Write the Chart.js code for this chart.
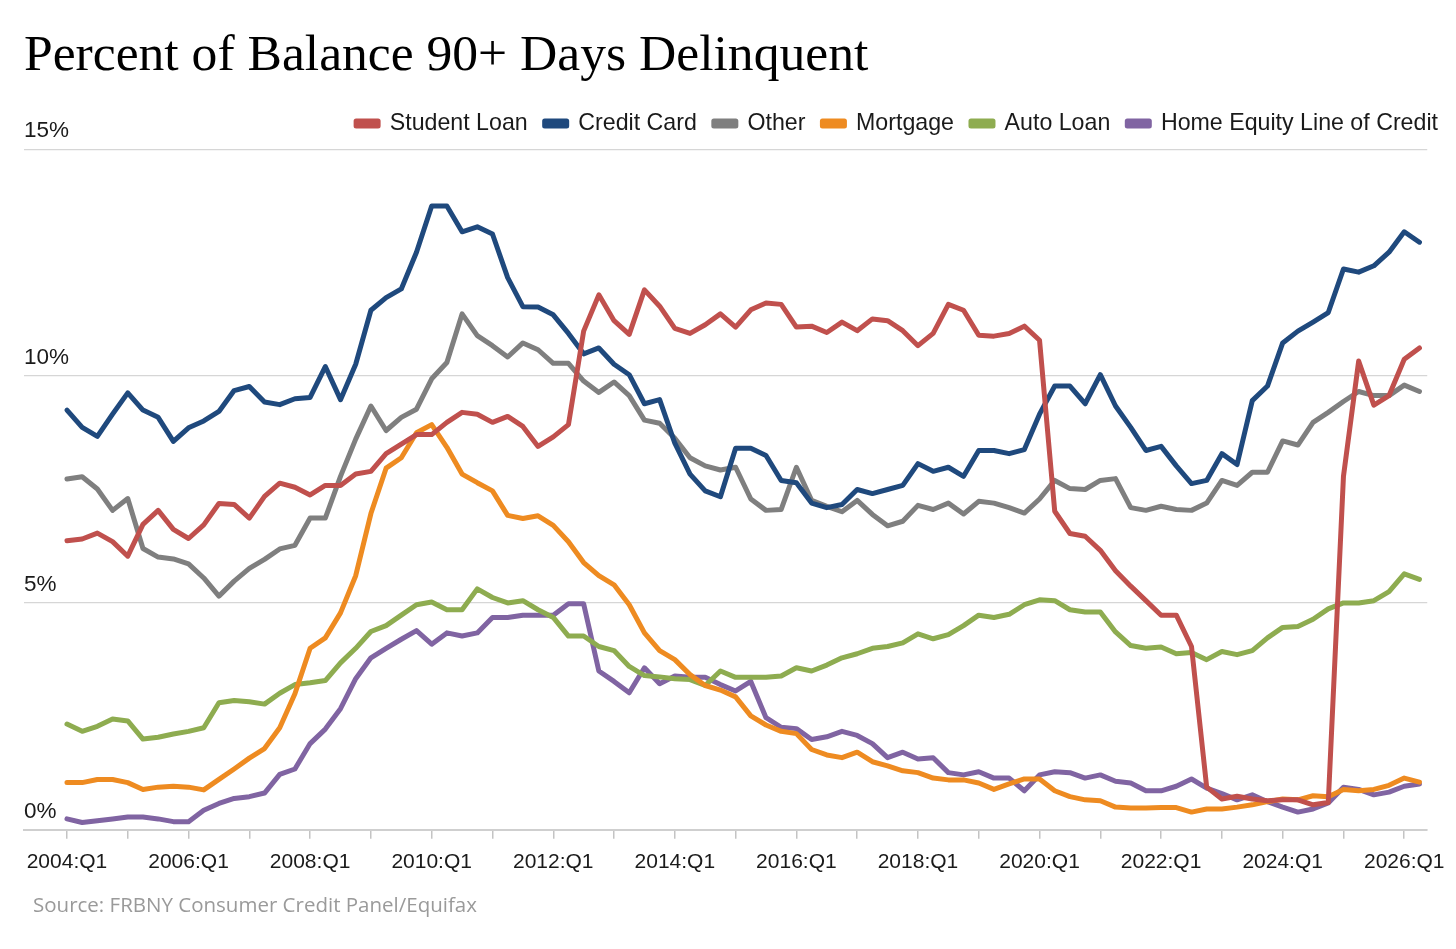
<!DOCTYPE html>
<html>
<head>
<meta charset="utf-8">
<script src="https://cdn.jsdelivr.net/npm/chart.js@4.4.1/dist/chart.umd.min.js"></script>
<style>
    body { margin: 0; background: #fff; }
    #wrap { position: relative; width: 1456px; height: 949px; }
    #chart { position: absolute; left: 0; top: 0; }
    #title {
        position: absolute; left: 24px; top: 27px;
        font: 51.6px/51.6px "Liberation Serif", serif; color: #000; white-space: nowrap;
    }
    #source {
        position: absolute; left: 33px; top: 894px;
        font: 20.5px/20.5px "Open Sans", sans-serif; color: #9a9a9a; white-space: nowrap;
    }
</style>
</head>
<body>
<div id="wrap">
    <canvas id="chart" width="1456" height="949"></canvas>
    <div id="title">Percent of Balance 90+ Days Delinquent</div>
    <div id="source">Source: FRBNY Consumer Credit Panel/Equifax</div>
</div>
<script>
// quarters 2004:Q1 .. 2026:Q2
const quarters = [];
for (let y = 2004; y <= 2026; y++) {
    for (let q = 1; q <= 4; q++) quarters.push(y + ':Q' + q);
}
quarters.length = 90;

const xTickLabels = ['2004:Q1', '2006:Q1', '2008:Q1', '2010:Q1', '2012:Q1', '2014:Q1',
    '2016:Q1', '2018:Q1', '2020:Q1', '2022:Q1', '2024:Q1', '2026:Q1'];
const yTickLabels = ['0%', '5%', '10%', '15%'];

const studentLoan = [
    6.37, 6.41, 6.54, 6.35, 6.03, 6.73, 7.04, 6.62, 6.42, 6.72, 7.19, 7.17, 6.87, 7.35, 7.64, 7.55,
    7.38, 7.59, 7.59, 7.84, 7.90, 8.29, 8.50, 8.71, 8.71, 8.98, 9.20, 9.16, 8.98, 9.11, 8.89, 8.45,
    8.66, 8.93, 10.99, 11.79, 11.22, 10.92, 11.90, 11.54, 11.05, 10.94, 11.13, 11.37, 11.08, 11.46, 11.61, 11.58,
    11.08, 11.10, 10.96, 11.19, 11.00, 11.26, 11.22, 11.00, 10.67, 10.94, 11.58, 11.45, 10.90, 10.88, 10.94, 11.10,
    10.79, 7.02, 6.53, 6.47, 6.16, 5.71, 5.37, 5.05, 4.73, 4.73, 4.04, 0.94, 0.68, 0.74, 0.68, 0.64,
    0.66, 0.66, 0.55, 0.60, 7.79, 10.33, 9.36, 9.57, 10.37, 10.62
];
const creditCard = [
    9.25, 8.87, 8.67, 9.16, 9.63, 9.25, 9.09, 8.56, 8.86, 9.01, 9.22, 9.68, 9.77, 9.43, 9.37, 9.50,
    9.53, 10.21, 9.48, 10.26, 11.45, 11.73, 11.92, 12.73, 13.75, 13.75, 13.18, 13.29, 13.13, 12.17, 11.53, 11.52,
    11.35, 10.94, 10.49, 10.62, 10.26, 10.03, 9.39, 9.48, 8.52, 7.84, 7.47, 7.34, 8.41, 8.41, 8.25, 7.70,
    7.65, 7.20, 7.10, 7.17, 7.50, 7.41, 7.50, 7.59, 8.07, 7.90, 7.99, 7.79, 8.36, 8.36, 8.29, 8.38,
    9.16, 9.78, 9.78, 9.39, 10.03, 9.34, 8.87, 8.36, 8.45, 8.02, 7.63, 7.70, 8.29, 8.05, 9.46, 9.78,
    10.73, 10.99, 11.19, 11.40, 12.36, 12.29, 12.43, 12.73, 13.18, 12.95
];
const other = [
    7.73, 7.78, 7.51, 7.04, 7.30, 6.20, 6.01, 5.97, 5.86, 5.55, 5.15, 5.48, 5.76, 5.96, 6.19, 6.27,
    6.87, 6.87, 7.79, 8.61, 9.34, 8.80, 9.09, 9.27, 9.94, 10.30, 11.37, 10.89, 10.67, 10.42, 10.73, 10.58,
    10.28, 10.28, 9.89, 9.64, 9.87, 9.57, 9.03, 8.96, 8.63, 8.20, 8.02, 7.93, 7.99, 7.29, 7.04, 7.06,
    7.99, 7.26, 7.13, 7.01, 7.26, 6.95, 6.70, 6.80, 7.15, 7.06, 7.20, 6.96, 7.24, 7.20, 7.10, 6.98,
    7.29, 7.70, 7.52, 7.50, 7.70, 7.74, 7.10, 7.04, 7.13, 7.06, 7.04, 7.20, 7.70, 7.59, 7.88, 7.88,
    8.57, 8.48, 8.98, 9.20, 9.44, 9.66, 9.57, 9.57, 9.80, 9.66
];
const mortgage = [
    1.04, 1.04, 1.11, 1.11, 1.04, 0.89, 0.94, 0.96, 0.94, 0.88, 1.11, 1.34, 1.58, 1.79, 2.25, 3.00,
    4.00, 4.23, 4.78, 5.60, 6.97, 7.97, 8.20, 8.75, 8.93, 8.43, 7.84, 7.65, 7.47, 6.93, 6.86, 6.92,
    6.71, 6.35, 5.89, 5.60, 5.40, 4.96, 4.34, 3.95, 3.75, 3.42, 3.18, 3.08, 2.93, 2.51, 2.31, 2.17,
    2.12, 1.77, 1.65, 1.59, 1.71, 1.50, 1.41, 1.30, 1.26, 1.14, 1.10, 1.10, 1.03, 0.89, 1.01, 1.12,
    1.12, 0.86, 0.73, 0.66, 0.64, 0.50, 0.48, 0.48, 0.49, 0.49, 0.39, 0.46, 0.46, 0.50, 0.55, 0.62,
    0.68, 0.66, 0.75, 0.73, 0.89, 0.86, 0.89, 0.98, 1.14, 1.05
];
const autoLoan = [
    2.33, 2.17, 2.28, 2.44, 2.40, 2.00, 2.04, 2.11, 2.17, 2.25, 2.80, 2.85, 2.82, 2.77, 3.01, 3.20,
    3.24, 3.29, 3.68, 4.00, 4.37, 4.50, 4.73, 4.96, 5.02, 4.85, 4.85, 5.31, 5.12, 5.00, 5.05, 4.85,
    4.68, 4.27, 4.27, 4.04, 3.95, 3.60, 3.40, 3.37, 3.33, 3.31, 3.18, 3.50, 3.36, 3.36, 3.36, 3.39,
    3.57, 3.50, 3.63, 3.79, 3.88, 4.00, 4.04, 4.12, 4.32, 4.21, 4.30, 4.50, 4.73, 4.68, 4.75, 4.96,
    5.07, 5.05, 4.85, 4.80, 4.80, 4.36, 4.06, 4.00, 4.03, 3.88, 3.91, 3.75, 3.93, 3.86, 3.95, 4.23,
    4.46, 4.48, 4.64, 4.87, 5.00, 5.00, 5.05, 5.25, 5.64, 5.52
];
const heloc = [
    0.24, 0.16, 0.20, 0.24, 0.28, 0.28, 0.24, 0.18, 0.18, 0.43, 0.58, 0.69, 0.73, 0.81, 1.22, 1.34,
    1.90, 2.22, 2.67, 3.33, 3.79, 4.00, 4.20, 4.39, 4.09, 4.34, 4.27, 4.34, 4.68, 4.68, 4.73, 4.73,
    4.73, 4.98, 4.98, 3.50, 3.27, 3.02, 3.57, 3.22, 3.39, 3.36, 3.36, 3.20, 3.06, 3.27, 2.47, 2.26,
    2.23, 1.99, 2.05, 2.17, 2.08, 1.90, 1.59, 1.71, 1.56, 1.59, 1.26, 1.21, 1.28, 1.14, 1.14, 0.86,
    1.21, 1.28, 1.26, 1.14, 1.21, 1.07, 1.03, 0.86, 0.86, 0.96, 1.12, 0.92, 0.80, 0.66, 0.77, 0.62,
    0.50, 0.39, 0.46, 0.59, 0.94, 0.89, 0.77, 0.83, 0.96, 1.01
];

function toPoints(values) {
    return values.map(function (v, i) { return { x: i, y: v }; });
}

function makeSeries(label, values, color) {
    return {
        label: label,
        data: toPoints(values),
        borderColor: color,
        backgroundColor: color,
        borderWidth: 5,
        borderJoinStyle: 'round',
        borderCapStyle: 'round',
        pointRadius: 0,
        tension: 0,
        fill: false
    };
}

const sansFont = { family: "'Liberation Sans', Arial, sans-serif", size: 21 };
const axisYFont = { family: "'Liberation Sans', Arial, sans-serif", size: 22.5 };
const legendFont = { family: "'Liberation Sans', Arial, sans-serif", size: 23.2 };

Chart.defaults.color = '#1a1a1a';

const ctx = document.getElementById('chart').getContext('2d');
new Chart(ctx, {
    type: 'line',
    data: {
        datasets: [
            makeSeries('Student Loan', studentLoan, '#c0504d'),
            makeSeries('Credit Card', creditCard, '#1f497d'),
            makeSeries('Other', other, '#7f7f7f'),
            makeSeries('Mortgage', mortgage, '#ee8b21'),
            makeSeries('Auto Loan', autoLoan, '#8eac50'),
            makeSeries('Home Equity Line of Credit', heloc, '#8064a2')
        ]
    },
    options: {
        responsive: false,
        animation: false,
        devicePixelRatio: 1,
        layout: { padding: { left: 24, right: 1, top: 95, bottom: 63 } },
        plugins: {
            title: { display: false },
            tooltip: { enabled: false },
            legend: {
                position: 'top',
                align: 'end',
                labels: {
                    boxWidth: 22,
                    boxHeight: 5,
                    padding: 17,
                    font: legendFont,
                    color: '#1a1a1a'
                }
            }
        },
        scales: {
            x: {
                type: 'linear',
                min: -2.828,
                max: 89.513,
                grid: {
                    drawOnChartArea: false,
                    drawTicks: true,
                    tickLength: 9,
                    color: '#c4c4c4',
                    lineWidth: 1.5
                },
                border: { display: true, color: '#cfcfcf', width: 2 },
                ticks: {
                    stepSize: 4,
                    includeBounds: false,
                    autoSkip: false,
                    maxRotation: 0,
                    padding: 11,
                    font: sansFont,
                    color: '#1a1a1a',
                    callback: function (value) {
                        return value % 8 === 0 ? xTickLabels[value / 8] : '';
                    }
                }
            },
            xSpacer: {
                type: 'linear',
                position: 'top',
                display: true,
                grid: { display: false },
                border: { display: false },
                ticks: { display: false },
                afterFit: function (scale) { scale.height = 4; }
            },
            y: {
                min: 0,
                max: 15,
                grid: { color: '#d6d6d6', lineWidth: 1.3, drawTicks: false },
                border: { display: false },
                ticks: {
                    stepSize: 5,
                    mirror: true,
                    padding: 0,
                    labelOffset: -18,
                    font: axisYFont,
                    color: '#1a1a1a',
                    callback: function (value) {
                        return yTickLabels[value / 5];
                    }
                }
            },
            ySpacer: {
                type: 'linear',
                position: 'right',
                display: true,
                grid: { display: false },
                border: { display: false },
                ticks: { display: false },
                afterFit: function (scale) { scale.width = 27; }
            }
        }
    }
});
</script>
</body>
</html>
